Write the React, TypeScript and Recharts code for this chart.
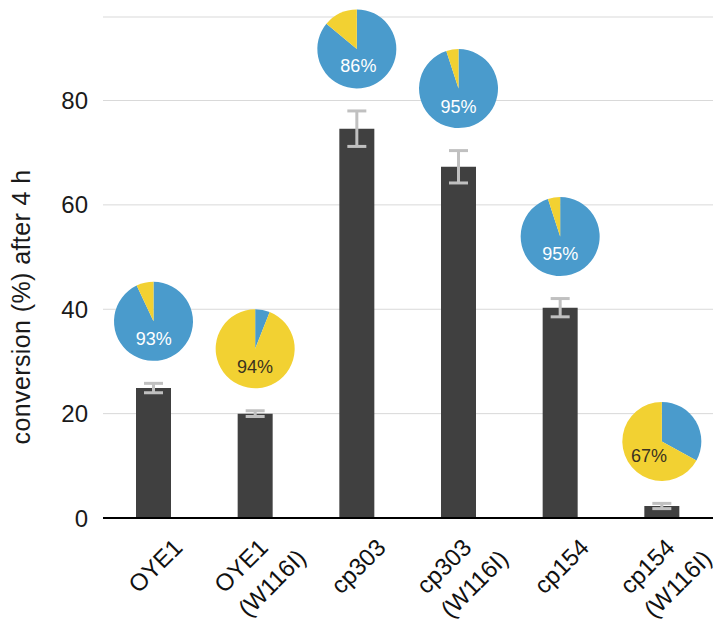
import React from 'react';
import { BarChart, Bar, XAxis, YAxis, CartesianGrid, ErrorBar, LabelList, Sector, Label } from 'recharts';

// ---- data ----
const categories = ['OYE1', 'OYE1\n(W116I)', 'cp303', 'cp303\n(W116I)', 'cp154', 'cp154\n(W116I)'];
const conversion = [24.9, 20.0, 74.6, 67.3, 40.3, 2.3];
const conversionError = [0.9, 0.55, 3.4, 3.1, 1.75, 0.5];
const blueShare = [93, 6, 86, 95, 95, 33];
const yTicks = [0, 20, 40, 60, 80];
const yMax = 96;
const yTitle = 'conversion (%) after 4 h';

// ---- layout / style ----
const W = 724;
const H = 624;
const M_TOP = 17;
const M_RIGHT = 11;
const Y_W = 103;
const X_H = 106;
const PLOT_H = H - M_TOP - X_H;
const PX = PLOT_H / yMax;
const FONT = '"Liberation Sans", Arial, Helvetica, sans-serif';
const BLUE = '#4a9bcc';
const YELLOW = '#f2d132';
const PIE_R = 39.5;
const PIE_GAP = 62;

const data = categories.map((name, i) => ({
  name,
  value: conversion[i],
  err: conversionError[i],
}));

let ctx: any = null;
function textWidth(s: string, size: number): number {
  try {
    if (!ctx) ctx = document.createElement('canvas').getContext('2d');
    if (ctx) {
      ctx.font = `${size}px ${FONT}`;
      const w = ctx.measureText(s).width;
      if (w > 0) return w;
    }
  } catch (e) {}
  return s.length * size * 0.58;
}

function XTick(props: any) {
  const { x, y, payload } = props;
  const lines = String(payload.value).split('\n');
  const size = 24;
  const w1 = textWidth(lines[0], size);
  const ox = lines.length > 1 ? 14 : 30;
  const oy = 31;
  const ax = x + ox;
  const ay = y + oy;
  return (
    <g className="x-tick">
      {lines.map((ln, i) => (
        <text
          key={i}
          transform={`translate(${ax} ${ay}) rotate(-45) translate(${-w1} ${i * 34})`}
          textAnchor="start"
          fontSize={size}
          fontFamily={FONT}
          fill="#111"
        >
          {ln}
        </text>
      ))}
    </g>
  );
}

function PieMark(props: any) {
  const vb = props.viewBox || props;
  const i = props.index;
  const { x, y, width, height } = vb;
  if (i == null || x == null) return null;
  const cx = x + width / 2;
  const bottom = y + height;
  const cy = bottom - (conversion[i] + conversionError[i]) * PX - PIE_GAP;
  const b = blueShare[i];
  const blueEnd = 90 - 3.6 * b;
  const major = Math.max(b, 100 - b);
  const blueMajor = b >= 50;
  const mid = blueMajor ? (90 + blueEnd) / 2 : (blueEnd - 270) / 2;
  const c = Math.cos((mid * Math.PI) / 180);
  const dx = 20 * c * c * c;
  const dy = 18 - 4 * c * c;
  return (
    <g>
      <Sector cx={cx} cy={cy} innerRadius={0} outerRadius={PIE_R} startAngle={90} endAngle={blueEnd} fill={BLUE} />
      <Sector cx={cx} cy={cy} innerRadius={0} outerRadius={PIE_R} startAngle={blueEnd} endAngle={-270} fill={YELLOW} />
      <text
        x={cx + dx}
        y={cy + dy}
        textAnchor="middle"
        dominantBaseline="central"
        fontSize={18}
        fontFamily={FONT}
        fill={blueMajor ? '#ffffff' : '#3a3320'}
      >
        {major}%
      </text>
    </g>
  );
}

function YTitle() {
  return (
    <text
      transform={`translate(30, ${M_TOP + PLOT_H / 2 + 39.5}) rotate(-90)`}
      textAnchor="middle"
      fontSize={25}
      letterSpacing={0.4}
      fontFamily={FONT}
      fill="#1a1a1a"
    >
      {yTitle}
    </text>
  );
}

export default function App() {
  return (
    <div style={{ position: 'absolute', left: 0, top: 0, width: W, height: H, background: '#fff', fontFamily: FONT }}>
      <BarChart width={W} height={H} data={data} margin={{ top: M_TOP, right: M_RIGHT, bottom: 0, left: 0 }}>
        <CartesianGrid vertical={false} stroke="#d9d9d9" strokeWidth={1} />
        <XAxis
          dataKey="name"
          height={X_H}
          interval={0}
          tickLine={false}
          tickSize={0}
          tickMargin={0}
          axisLine={{ stroke: '#000', strokeWidth: 2 }}
          tick={(p: any) => <XTick {...p} />}
        />
        <YAxis
          width={Y_W}
          domain={[0, yMax]}
          ticks={yTicks}
          axisLine={false}
          tickLine={false}
          tickSize={6}
          tickMargin={9}
          tick={{ fontSize: 24, fill: '#1a1a1a', fontFamily: FONT }}
        >
          <Label content={<YTitle />} />
        </YAxis>
        <Bar dataKey="value" fill="#404040" barSize={35} isAnimationActive={false}>
          <ErrorBar dataKey="err" width={9.5} strokeWidth={3} stroke="#c0c0c0" direction="y" isAnimationActive={false} />
          <LabelList dataKey="value" content={<PieMark />} />
        </Bar>
      </BarChart>
    </div>
  );
}
